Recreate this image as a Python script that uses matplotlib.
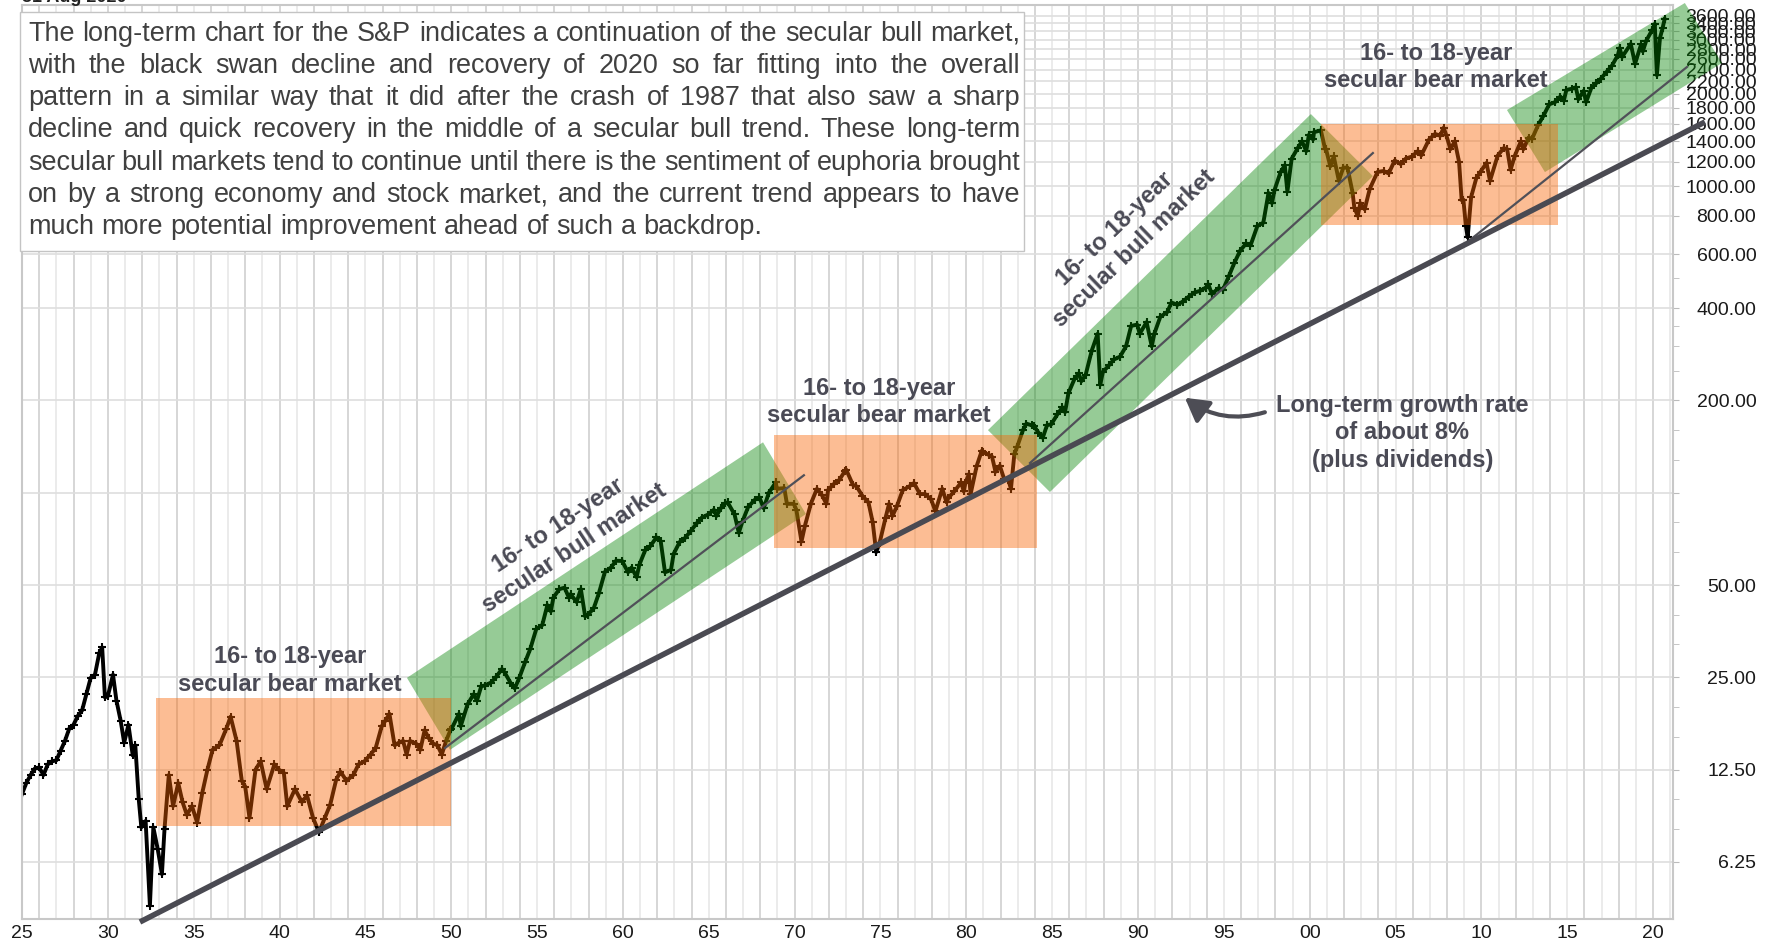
import numpy as np
import matplotlib.pyplot as plt
from matplotlib.patches import Polygon, Rectangle
from matplotlib.ticker import FixedLocator, FixedFormatter, NullFormatter

plt.rcParams['font.family'] = ['Liberation Sans', 'DejaVu Sans']

# S&P 500 index level (decimal year, level)
years = [
    1925.0, 1925.25, 1925.5, 1925.75, 1926.0, 1926.25, 1926.5, 1926.75,
    1927.0, 1927.25, 1927.5, 1927.75, 1928.0, 1928.25, 1928.5, 1928.75,
    1929.0, 1929.25, 1929.5, 1929.67, 1929.83, 1930.0, 1930.3, 1930.5, 1930.75, 1930.95,
    1931.2, 1931.45, 1931.6, 1931.8, 1931.95, 1932.2, 1932.45, 1932.65, 1932.9,
    1933.15, 1933.3, 1933.55, 1933.8, 1934.1, 1934.35, 1934.6, 1934.9,
    1935.2, 1935.5, 1935.8, 1936.1, 1936.5, 1936.9, 1937.15, 1937.5, 1937.8,
    1938.0, 1938.25, 1938.6, 1938.9, 1939.25, 1939.7, 1939.95,
    1940.25, 1940.45, 1940.9, 1941.3, 1941.6, 1941.95, 1942.3, 1942.6, 1942.95,
    1943.3, 1943.55, 1943.9, 1944.3, 1944.6, 1944.95, 1945.3, 1945.6, 1945.95,
    1946.15, 1946.4, 1946.7, 1946.95, 1947.2, 1947.4, 1947.6, 1947.95,
    1948.2, 1948.45, 1948.7, 1948.95, 1949.2, 1949.45, 1949.7, 1949.95,
    1950.0, 1950.45, 1950.55, 1950.95, 1951.3, 1951.5, 1951.75, 1951.95,
    1952.3, 1952.6, 1952.95, 1953.1, 1953.45, 1953.7, 1953.95,
    1954.3, 1954.6, 1954.95, 1955.3, 1955.6, 1955.8, 1955.95,
    1956.3, 1956.6, 1956.85, 1956.95, 1957.3, 1957.55, 1957.8, 1957.95,
    1958.3, 1958.6, 1958.95, 1959.3, 1959.6, 1959.95,
    1960.3, 1960.5, 1960.8, 1960.95, 1961.3, 1961.6, 1961.95,
    1962.2, 1962.45, 1962.8, 1962.95, 1963.3, 1963.6, 1963.95,
    1964.3, 1964.6, 1964.95, 1965.3, 1965.45, 1965.7, 1965.95,
    1966.1, 1966.5, 1966.75, 1966.95, 1967.3, 1967.7, 1967.95,
    1968.2, 1968.5, 1968.9, 1968.95,
    1969.0, 1969.4, 1969.55, 1969.95, 1970.1, 1970.4, 1970.6, 1970.95,
    1971.3, 1971.6, 1971.85, 1971.95, 1972.3, 1972.6, 1972.95,
    1973.0, 1973.4, 1973.6, 1973.95, 1974.3, 1974.55, 1974.75, 1974.95,
    1975.3, 1975.5, 1975.7, 1975.95, 1976.3, 1976.7, 1976.95,
    1977.3, 1977.6, 1977.95, 1978.2, 1978.6, 1978.85, 1978.95,
    1979.3, 1979.7, 1979.85, 1979.95, 1980.15, 1980.25, 1980.6, 1980.9, 1980.95,
    1981.3, 1981.5, 1981.7, 1981.95, 1982.2, 1982.45, 1982.6, 1982.8, 1982.95,
    1983.3, 1983.5, 1983.8, 1983.95, 1984.2, 1984.45, 1984.7, 1984.95,
    1985.3, 1985.6, 1985.75, 1985.95, 1986.3, 1986.55, 1986.7, 1986.95,
    1987.3, 1987.65, 1987.8, 1987.95, 1988.3, 1988.6, 1988.95,
    1989.3, 1989.6, 1989.95, 1990.1, 1990.5, 1990.8, 1990.95,
    1991.3, 1991.7, 1991.95, 1992.3, 1992.6, 1992.95, 1993.3, 1993.6, 1993.95,
    1994.1, 1994.3, 1994.7, 1994.95, 1995.3, 1995.6, 1995.95,
    1996.3, 1996.55, 1996.95, 1997.3, 1997.6, 1997.8, 1997.95,
    1998.3, 1998.55, 1998.7, 1998.95, 1999.3, 1999.55, 1999.8, 1999.95,
    2000.2, 2000.25, 2000.65, 2000.9, 2000.95, 2001.2, 2001.4, 2001.7, 2001.95,
    2002.2, 2002.5, 2002.6, 2002.8, 2002.95, 2003.2, 2003.5, 2003.95,
    2004.3, 2004.6, 2004.95, 2005.3, 2005.6, 2005.95, 2006.3, 2006.5, 2006.95,
    2007.3, 2007.6, 2007.8, 2007.95, 2008.2, 2008.45, 2008.7, 2008.85, 2008.95,
    2009.1, 2009.2, 2009.4, 2009.7, 2009.95, 2010.3, 2010.5, 2010.95,
    2011.3, 2011.5, 2011.7, 2011.95, 2012.3, 2012.45, 2012.75, 2012.95,
    2013.3, 2013.6, 2013.95, 2014.3, 2014.6, 2014.8, 2014.95,
    2015.3, 2015.5, 2015.65, 2015.95, 2016.1, 2016.4, 2016.7, 2016.95,
    2017.3, 2017.6, 2017.95, 2018.05, 2018.2, 2018.7, 2018.95,
    2019.3, 2019.4, 2019.6, 2019.95, 2020.1, 2020.22, 2020.4, 2020.55, 2020.67,
]
closes = [
    10.4, 11.3, 12.0, 12.6, 12.7, 12.0, 13.0, 13.3,
    13.4, 14.4, 15.5, 17.0, 17.5, 18.7, 19.5, 22.0,
    24.9, 25.5, 30.0, 31.3, 21.5, 21.7, 25.5, 21.0, 18.0, 15.3,
    17.5, 13.9, 15.0, 10.0, 8.1, 8.5, 4.5, 8.1, 6.9,
    5.7, 8.0, 12.0, 9.5, 11.3, 9.8, 8.9, 9.5,
    8.4, 10.5, 12.5, 14.5, 15.0, 17.0, 18.6, 15.5, 11.5,
    11.0, 8.7, 12.5, 13.3, 10.8, 13.0, 12.5,
    12.2, 9.5, 10.8, 9.8, 10.3, 8.7, 7.8, 8.6, 9.6,
    11.6, 12.3, 11.5, 12.0, 13.0, 13.3, 14.0, 14.7, 17.3,
    18.0, 19.0, 15.0, 15.3, 15.5, 14.0, 15.5, 15.2,
    14.5, 16.8, 15.8, 15.2, 15.0, 14.0, 15.5, 16.8,
    16.9, 19.0, 17.3, 20.4, 22.0, 21.0, 23.4, 23.5,
    24.0, 25.0, 26.6, 26.0, 24.0, 23.0, 24.8,
    28.0, 30.9, 35.9, 37.0, 43.0, 41.0, 45.5,
    48.5, 49.0, 45.5, 46.7, 44.0, 48.5, 39.5, 39.9,
    42.0, 47.0, 55.2, 57.0, 60.0, 59.9,
    55.0, 57.0, 53.0, 58.1, 65.0, 67.0, 71.5,
    69.5, 55.0, 56.0, 63.1, 69.0, 71.0, 75.0,
    79.5, 83.0, 84.8, 88.0, 84.0, 89.0, 92.4,
    93.0, 85.0, 74.0, 80.3, 90.0, 95.0, 96.5,
    89.0, 100.0, 108.0, 103.9,
    103.0, 103.5, 92.0, 92.0, 88.0, 69.3, 78.0, 92.2,
    103.0, 98.0, 92.0, 102.1, 107.0, 110.0, 118.1,
    119.0, 106.0, 105.0, 97.6, 93.0, 80.0, 64.0, 68.6,
    83.0, 92.0, 84.0, 90.2, 102.0, 105.0, 107.5,
    99.0, 99.0, 95.1, 87.0, 103.0, 93.0, 96.1,
    101.0, 108.0, 101.0, 107.9, 115.0, 99.0, 122.0, 137.0, 135.8,
    133.0, 131.0, 117.0, 122.5, 111.0, 110.0, 103.0, 134.0, 140.6,
    160.0, 168.0, 166.0, 164.9, 157.0, 151.0, 166.0, 167.2,
    180.0, 190.0, 183.0, 211.3, 235.0, 245.0, 231.0, 242.2,
    290.0, 330.0, 225.0, 247.1, 260.0, 272.0, 277.7,
    300.0, 350.0, 353.4, 330.0, 360.0, 300.0, 330.2,
    375.0, 388.0, 417.1, 410.0, 420.0, 435.7, 450.0, 455.0, 466.5,
    478.0, 445.0, 465.0, 459.3, 510.0, 560.0, 615.9,
    650.0, 640.0, 740.7, 760.0, 950.0, 880.0, 970.4,
    1110.0, 1170.0, 960.0, 1229.2, 1330.0, 1400.0, 1300.0, 1469.3,
    1420.0, 1500.0, 1520.0, 1320.0, 1320.3, 1160.0, 1250.0, 1040.0, 1148.1,
    1150.0, 950.0, 850.0, 800.0, 879.8, 840.0, 980.0, 1111.9,
    1120.0, 1100.0, 1211.9, 1180.0, 1230.0, 1248.3, 1300.0, 1260.0, 1418.3,
    1480.0, 1460.0, 1550.0, 1468.4, 1320.0, 1400.0, 1200.0, 900.0, 903.3,
    740.0, 680.0, 920.0, 1060.0, 1115.1, 1190.0, 1040.0, 1257.6,
    1330.0, 1320.0, 1130.0, 1257.6, 1400.0, 1320.0, 1440.0, 1426.2,
    1580.0, 1690.0, 1848.4, 1880.0, 1960.0, 1900.0, 2058.9,
    2080.0, 2100.0, 1920.0, 2043.9, 1880.0, 2090.0, 2170.0, 2238.8,
    2360.0, 2470.0, 2673.6, 2820.0, 2640.0, 2910.0, 2506.9,
    2900.0, 2750.0, 2980.0, 3230.8, 3380.0, 2300.0, 3040.0, 3270.0, 3500.0,
]

# secular bear market boxes: (start year, end year, low, high)
bear_boxes = [(1932.8, 1950.0, 8.2, 21.4),
              (1968.8, 1984.1, 66.0, 154.0),
              (2000.65, 2014.46, 747.0, 1594.0)]
# secular bull market channels (corners as year, level)
bull_bands = [
    [(1947.42, 24.9), (1968.16, 146.0), (1970.66, 85.2), (1949.93, 14.5)],
    [(1981.26, 160.0), (2000.07, 1718.0), (2003.68, 1078.0), (1984.87, 100.5)],
    [(2011.49, 1771.0), (2021.85, 3956.0), (2024.01, 2520.0), (2013.70, 1111.0)],
]
# thin trend lines inside bull channels
trend_lines = [[(1949.64, 14.7), (1970.54, 114.0)],
               [(1983.71, 125.0), (2003.68, 1282.0)],
               [(2009.33, 667.0), (2021.97, 2445.0)]]
# long-term growth line
growth_line = [(1931.87, 3.98), (2023.02, 1619.0)]

ytick_vals = [6.25, 12.5, 25, 50, 100, 200, 400, 600, 800, 1000, 1200, 1400, 1600,
              1800, 2000, 2200, 2400, 2600, 2800, 3000, 3200, 3400, 3600]
ytick_labels = ['' if v == 100 else '%.2f' % v for v in ytick_vals]
xtick_vals = list(range(1925, 2021, 5))
xtick_labels = ['%02d' % (y % 100) for y in xtick_vals]

body_lines = [
    "The long-term chart for the S&P indicates a continuation of the secular bull market,",
    "with the black swan decline and recovery of 2020 so far fitting into the overall",
    "pattern in a similar way that it did after the crash of 1987 that also saw a sharp",
    "decline and quick recovery in the middle of a secular bull trend. These long-term",
    "secular bull markets tend to continue until there is the sentiment of euphoria brought",
    "on by a strong economy and stock market, and the current trend appears to have",
    "much more potential improvement ahead of such a backdrop.",
]

W, H = 1773, 946
fig = plt.figure(figsize=(W / 100, H / 100), dpi=100, facecolor='white')
ax = fig.add_axes([22 / W, 1 - 919 / H, (1673 - 22) / W, (919 - 5) / H])

ax.set_yscale('log')
ax.set_xlim(1925.0, 2021.16)
ax.set_ylim(4.07, 3897)

# year grid: even years a touch darker
for yr in range(1926, 2022):
    ax.axvline(yr, color='#cfcfcf' if yr % 2 == 0 else '#e8e8e8', lw=1.2, zorder=0)
for v in ytick_vals:
    ax.axhline(v, color='#dedede', lw=1.2, zorder=0)

ax.plot(years, closes, color='black', lw=2.8, marker='+', ms=6, mew=1.5, zorder=2)

orange = (0.98, 0.39, 0.0)
green = (0.0, 0.51, 0.0)
for band in bull_bands:
    ax.add_patch(Polygon(band, closed=True, facecolor=green, alpha=0.41,
                         edgecolor='none', zorder=3, clip_on=False))
for x0, x1, lo, hi in bear_boxes:
    ax.add_patch(Polygon([(x0, lo), (x0, hi), (x1, hi), (x1, lo)], closed=True,
                         facecolor=orange, alpha=0.42, edgecolor='none', zorder=3))

for ln in trend_lines:
    xs, vs = zip(*ln)
    ax.plot(xs, vs, color='#505058', lw=1.6, zorder=4, clip_on=False)
xs, vs = zip(*growth_line)
ax.plot(xs, vs, color='#4a4a52', lw=4, zorder=4, clip_on=False, solid_capstyle='butt')

lab_kw = dict(fontsize=17, fontweight='bold', color='#4a4a55', ha='center', va='center',
              linespacing=1.25, zorder=6)
ax.text(1940.6, 26.3, "16- to 18-year\nsecular bear market", **lab_kw)
ax.text(1974.9, 198, "16- to 18-year\nsecular bear market", **lab_kw)
ax.text(2007.35, 2445, "16- to 18-year\nsecular bear market", **lab_kw)
ax.text(1956.7, 71.7, "16- to 18-year\nsecular bull market", rotation=33.5,
        rotation_mode='anchor', **lab_kw)
ax.text(1989.2, 675, "16- to 18-year\nsecular bull market", rotation=44,
        rotation_mode='anchor', **lab_kw)
ax.text(2005.4, 156.6, "Long-term growth rate\nof about 8%\n(plus dividends)", **lab_kw)
ax.annotate('', xy=(1992.73, 204), xytext=(1997.39, 183),
            arrowprops=dict(arrowstyle='-|>,head_length=0.7,head_width=0.4',
                            color='#4d4d55', lw=3, shrinkA=0, shrinkB=0,
                            connectionstyle='arc3,rad=-0.25', mutation_scale=20),
            zorder=6)

# axes styling
for s in ax.spines.values():
    s.set_color('#c8c8c8')
    s.set_linewidth(1.5)
ax.yaxis.set_major_locator(FixedLocator(ytick_vals))
ax.yaxis.set_major_formatter(FixedFormatter(ytick_labels))
ax.yaxis.set_minor_locator(FixedLocator([8, 10, 16, 20, 32, 40, 64, 80, 128, 160, 250,
                                         300, 350, 500]))
ax.yaxis.set_minor_formatter(NullFormatter())
ax.tick_params(axis='y', which='both', left=False, labelleft=False, right=True,
               labelright=True, color='#bbbbbb', labelsize=14, labelcolor='#1a1a1a')
ax.tick_params(axis='y', which='major', length=4, pad=56)
ax.tick_params(axis='y', which='minor', length=4)
for lbl in ax.get_yticklabels():
    lbl.set_ha('right')
ax.xaxis.set_major_locator(FixedLocator(xtick_vals))
ax.xaxis.set_major_formatter(FixedFormatter(xtick_labels))
ax.xaxis.set_minor_formatter(NullFormatter())
ax.tick_params(axis='x', which='both', length=0, pad=4, labelsize=14, labelcolor='#1a1a1a')

# date stamp, mostly cut off at the top edge as in the source chart
fig.text(22 / W, 1 - 2 / H, "31 Aug 2020", fontsize=13, fontweight='bold',
         color='#222222', ha='left', va='baseline')

# commentary box
fig.add_artist(Rectangle((20 / W, 1 - 251 / H), (1024 - 20) / W, (251 - 12) / H,
                         transform=fig.transFigure, facecolor='white',
                         edgecolor='#c4c4c4', lw=1, zorder=5))
fig.canvas.draw()
r = fig.canvas.get_renderer()
probe = fig.text(0, 0, body_lines[0], fontsize=10)
fs = 10 * (1020 - 28) / probe.get_window_extent(r).width
probe.remove()
line_y = [34, 66, 98, 130, 163, 195, 227]
for i, line in enumerate(body_lines):
    words = line.split()
    ts = [fig.text(0, 1 - line_y[i] / H, w, fontsize=fs, color='#404040',
                   va='center', ha='left', zorder=6) for w in words]
    widths = [t.get_window_extent(r).width for t in ts]
    if i == len(body_lines) - 1:
        sp = fig.text(0, 0, 'a a', fontsize=fs)
        sa = fig.text(0, 0, 'aa', fontsize=fs)
        gap = sp.get_window_extent(r).width - sa.get_window_extent(r).width
        sp.remove()
        sa.remove()
    else:
        gap = (1020 - 28 - sum(widths)) / (len(words) - 1)
    x = 28
    for t, w in zip(ts, widths):
        t.set_x(x / W)
        x += w + gap

fig.savefig('out.png', dpi=100, facecolor='white')
